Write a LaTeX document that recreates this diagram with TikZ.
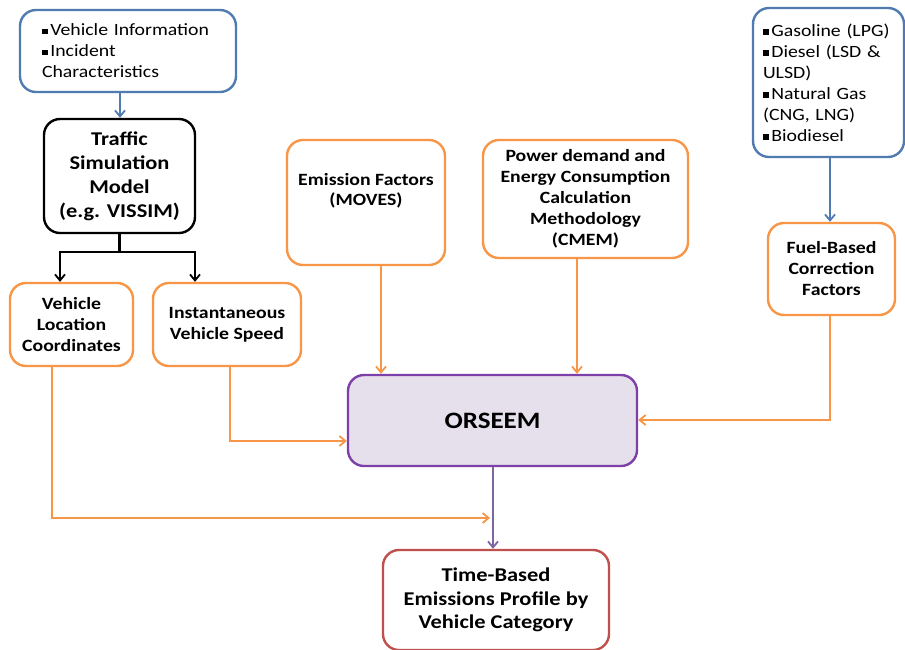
\documentclass[tikz,border=0pt]{standalone}
\usepackage{fontspec}
\setmainfont[FakeStretch=1.15]{Carlito}
\usetikzlibrary{arrows.meta,positioning}
\definecolor{bblue}{HTML}{4F7BB0}
\definecolor{borange}{HTML}{F79646}
\definecolor{bpurple}{HTML}{7D3FA8}
\definecolor{lpurple}{HTML}{8064A2}
\definecolor{fpurple}{HTML}{E6E0EC}
\definecolor{bred}{HTML}{C0504D}
\newcommand{\sqb}{\rule[0.2ex]{0.32em}{0.32em}\,}
\tikzset{
  box/.style={draw, line width=2.4pt, rounded corners=16pt, fill=white, inner sep=3pt, align=center, font=\fontsize{17.2}{21}\selectfont\bfseries},
  bluebox/.style={box, draw=bblue, align=left, font=\fontsize{17.2}{21}\selectfont},
  orbox/.style={box, draw=borange},
  txt/.style={align=center, inner sep=0pt, font=\fontsize{17.2}{20}\selectfont\bfseries},
  arr/.style={line width=2.4pt, -{Straight Barb[length=6pt,width=10pt,line width=1.8pt]}},
}
\begin{document}
\begin{tikzpicture}[x=1pt,y=-1pt]
\useasboundingbox (0,0) rectangle (905,649);
% boxes
\node[bluebox, minimum width=216pt, minimum height=82pt, text width=172pt] (info) at (128,51) {\sqb Vehicle Information\\ \sqb Incident\\ Characteristics};
\node[box, draw=black, minimum width=151pt, minimum height=114pt, font=\fontsize{19.5}{24}\selectfont\bfseries] (tsm) at (119.5,176) {Traffic\\ Simulation\\ Model\\ (e.g. VISSIM)};
\node[orbox, minimum width=123pt, minimum height=83pt] (vlc) at (71.5,324.5) {Vehicle\\ Location\\ Coordinates};
\node[orbox, minimum width=148pt, minimum height=83pt] (ivs) at (227,324.5) {Instantaneous\\ Vehicle Speed};
\node[orbox, minimum width=158pt, minimum height=125pt] (ef) at (366,202.5) {};
\node[txt] (eft) at (366,190.5) {Emission Factors\\ (MOVES)};
\node[orbox, minimum width=205pt, minimum height=118pt] (pd) at (585.5,199) {Power demand and\\ Energy Consumption\\ Calculation\\ Methodology\\ (CMEM)};
\node[bluebox, minimum width=151pt, minimum height=149pt, text width=131pt] (fuel) at (828.5,82.5) {\sqb Gasoline (LPG)\\ \sqb Diesel (LSD \&\\ ULSD)\\ \sqb Natural Gas\\ (CNG, LNG)\\ \sqb Biodiesel};
\node[orbox, minimum width=127pt, minimum height=92pt] (fbc) at (831.5,269) {Fuel-Based\\ Correction\\ Factors};
\node[box, draw=bpurple, fill=fpurple, minimum width=289pt, minimum height=91pt, font=\fontsize{23.5}{28}\selectfont\bfseries] (ors) at (492.5,420.5) {ORSEEM};
\node[box, draw=bred, minimum width=226pt, minimum height=100pt, font=\fontsize{19.5}{23.5}\selectfont\bfseries] (tbe) at (496,600) {Time-Based\\ Emissions Profile by\\ Vehicle Category};
% connectors
\draw[arr, bblue] (info.south -| 120,0) -- (tsm.north -| 120,0);
\coordinate (split) at (119.5,252);
\draw[line width=2.4pt] (tsm.south) -- (split);
\draw[arr, black] (split) -| (vlc.north -| 60,0);
\draw[arr, black] (split) -| (ivs.north -| 195,0);
\draw[arr, borange] (ef.south -| 381,0) -- (ors.north -| 381,0);
\draw[arr, borange] (pd.south -| 577,0) -- (ors.north -| 577,0);
\draw[arr, bblue] (fuel.south -| 830,0) -- (fbc.north -| 830,0);
\draw[arr, borange] (fbc.south -| 830,0) |- (ors.east |- 0,420);
\draw[arr, borange] (ivs.south -| 230,0) |- (ors.west |- 0,441);
\coordinate (join) at (490,518);
\draw[arr, borange] (vlc.south -| 52,0) |- (join);
\draw[arr, lpurple] (ors.south -| 493,0) -- (tbe.north -| 493,0);
\end{tikzpicture}
\end{document}
